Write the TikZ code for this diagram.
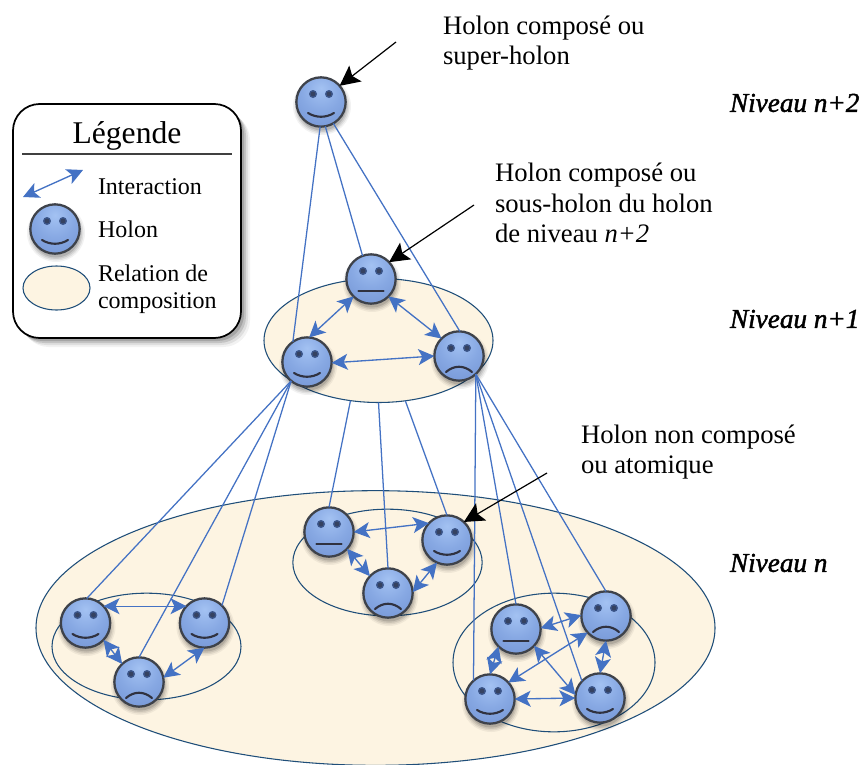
\documentclass[tikz,border=0pt]{standalone}
\usepackage{fontspec}
\setmainfont{Liberation Serif}
\newfontfamily\nivfont[RawFeature={embolden=1.6}]{Liberation Serif}
\usetikzlibrary{arrows.meta,shapes.geometric,calc}
\definecolor{linkblue}{RGB}{68,114,196}
\definecolor{rimblue}{RGB}{31,78,121}
\definecolor{creamfill}{RGB}{253,244,226}
\definecolor{rimgray}{RGB}{62,66,74}
\definecolor{featgray}{RGB}{48,50,64}
\pgfdeclareradialshading{holonshade}{\pgfpoint{0bp}{14bp}}{
 rgb(0bp)=(0.64,0.76,0.95);
 rgb(20bp)=(0.53,0.66,0.89);
 rgb(42bp)=(0.45,0.58,0.83);
 rgb(64bp)=(0.38,0.50,0.74);
 rgb(100bp)=(0.38,0.50,0.74)}
\tikzset{
 x=0.75pt,y=-0.75pt,
 holonbody/.style={circle,minimum size=37pt,inner sep=0pt,outer sep=0pt,shading=holonshade,draw=rimgray,line width=1.7pt},
 compo/.style={ellipse,inner sep=0pt,outer sep=0pt,draw=rimblue,line width=0.8pt},
 filledcompo/.style={compo,fill=creamfill},
 link/.style={linkblue,line width=0.95pt},
 inter/.style={linkblue,line width=1pt,{Stealth[length=12pt,width=12pt,inset=3pt]}-{Stealth[length=12pt,width=12pt,inset=3pt]}},
 pointer/.style={black,line width=0.9pt,-{Stealth[length=15pt,width=15pt,inset=3pt]}},
 lab/.style={inner sep=0pt,outer sep=0pt,anchor=west,align=left,font=\fontsize{20pt}{23pt}\selectfont},
 leg/.style={inner sep=0pt,outer sep=0pt,anchor=west,align=left,font=\fontsize{18pt}{20.5pt}\selectfont},
 niveau/.style={inner sep=0pt,outer sep=0pt,anchor=west,font=\nivfont\fontsize{20.4pt}{22pt}\selectfont\itshape},
 feat/.style={featgray,line width=1.6pt,line cap=round},
}
\newcommand\mouthS{\draw[feat] (-13,11) .. controls (-5,16) and (5,16) .. (13,11);}
\newcommand\mouthN{\draw[feat] (-12.5,12) -- (12.5,12);}
\newcommand\mouthF{\draw[feat] (-13,16) .. controls (-5,9) and (5,9) .. (13,16);}
\newcommand\holon[4]{%
 \foreach \rr/\oo in {29/0.05,27.5/0.07,26/0.09,24.5/0.12}{\fill[black,opacity=\oo] ($(#2,#3)+(1,4)$) circle[radius=\rr];}
 \node[holonbody] (#1) at (#2,#3) {};
 \begin{scope}[shift={(#2,#3)}]
  \fill[featgray!45!linkblue] (-8,-8) circle[radius=4];
  \fill[featgray!45!linkblue] (8,-8) circle[radius=4];
  \fill[featgray!75!linkblue] (-8,-8) circle[radius=2.4];
  \fill[featgray!75!linkblue] (8,-8) circle[radius=2.4];
  #4
 \end{scope}}
\begin{document}
\begin{tikzpicture}
\useasboundingbox (0,0) rectangle (863,764);
\fill[white] (0,0) rectangle (863,764);
\begin{scope}
\clip (0,0) rectangle (863,764);
\node[filledcompo,minimum width=509.25pt,minimum height=206pt] (bigE) at (375.5,628) {};
\node[filledcompo,minimum width=171.75pt,minimum height=93pt] (topE) at (378.5,340.5) {};
\node[compo,minimum width=142pt,minimum height=80pt] (midE) at (387.5,562.5) {};
\node[compo,minimum width=141.75pt,minimum height=80pt] (leftE) at (146.5,646.5) {};
\node[compo,minimum width=151.5pt,minimum height=104pt] (rightE) at (554,662.5) {};
\end{scope}
% legend
\foreach \dd/\oo in {9/0.05,7/0.08,5/0.12,3/0.15}{\fill[black,opacity=\oo,rounded corners=20pt] (13+\dd,104+\dd) rectangle (241+\dd,338+\dd);}
\node[draw=black,line width=1.3pt,fill=white,rounded corners=20pt,minimum width=171pt,minimum height=175.5pt,inner sep=0pt,outer sep=0pt] (legbox) at (127,221) {};
\node[inner sep=0pt,font=\fontsize{23.7pt}{26pt}\selectfont] (legtitle) at (127,135.5) {Légende};
\coordinate (ruleA) at (22,154);
\coordinate (ruleB) at (232,154);
\draw[line width=1.5pt,black!75] (ruleA) -- (ruleB);
\coordinate (lgA) at (23,197);
\coordinate (lgB) at (83,170);
\draw[inter] (lgA) -- (lgB);
\node[leg] (tInter) at (98,186.5) {Interaction};
\node[leg] (tHolon) at (98,229.5) {Holon};
\node[leg] (tRel) at (98,289) {Relation de\\composition};
\node[filledcompo,minimum width=50.25pt,minimum height=33pt] (legE) at (56.5,288) {};
% faces
\holon{legH}{55}{229}{\mouthS}
\holon{pTop}{321}{102}{\mouthS}
\holon{nT}{371}{279}{\mouthN}
\holon{nL}{307}{362}{\mouthS}
\holon{nR}{459}{356}{\mouthF}
\holon{mA}{329}{532}{\mouthN}
\holon{mB}{447}{540}{\mouthS}
\holon{mC}{388}{593}{\mouthF}
\holon{lA1}{85.5}{623}{\mouthS}
\holon{lB}{204.5}{623}{\mouthS}
\holon{lC}{139}{682}{\mouthF}
\holon{rA1}{516}{629}{\mouthN}
\holon{rB}{606}{616}{\mouthF}
\holon{rC}{490}{699}{\mouthS}
\holon{rD}{600}{698}{\mouthS}
% composition links
\draw[link] (pTop.268) -- (nL.125);
\draw[link] (pTop.-80) -- (nT.110);
\draw[link] (pTop.-60) -- (nR.88);
\draw[link] (nL.230) -- (lA1.87);
\draw[link] (nL.230) -- (lC.90);
\draw[link] (nL.230) -- (lB.45);
\draw[link] (topE.245) -- (mA.90);
\draw[link] (topE.270) -- (mC.90);
\draw[link] (topE.294) -- (mB.90);
\draw[link] (nR.-47) -- (rC.132);
\draw[link] (nR.-47) -- (rA1.90);
\draw[link] (nR.-47) -- (rD.137);
\draw[link] (nR.-47) -- (rB.90);
% interactions
\draw[inter] (nT.225) -- (nL.85);
\draw[inter] (nT.-45) -- (nR.135);
\draw[inter] (nL.-2) -- (nR.180);
\draw[inter] (mA.0) -- (mB.137);
\draw[inter] (mA.-43) -- (mC.137);
\draw[inter] (mB.-114) -- (mC.2);
\draw[inter] (lA1.43) -- (lB.137);
\draw[inter] (lA1.-43) -- (lC.133);
\draw[inter] (lB.-90) -- (lC.10);
\draw[inter] (rA1.2) -- (rB.178);
\draw[inter] (rA1.225) -- (rC.90);
\draw[inter] (rA1.-43) -- (rD.173);
\draw[inter] (rB.-90) -- (rD.90);
\draw[inter] (rB.222) -- (rC.42);
\draw[inter] (rC.0) -- (rD.180);
% labels
\node[lab] (t1) at (443,43) {Holon composé ou\\super-holon};
\node[lab] (t2) at (495,203) {Holon composé ou\\sous-holon du holon\\de niveau \textit{n+2}};
\node[lab] (t3) at (581,452) {Holon non composé\\ou atomique};
\node[niveau] (n2) at (730,103) {Niveau n+2};
\node[niveau] (n1) at (730,319) {Niveau n+1};
\node[niveau] (n0) at (730,563) {Niveau n};
\coordinate (pa) at (396,42);
\coordinate (pb) at (474,205);
\coordinate (pc) at (547,473);
\draw[pointer] (pa) -- (pTop.41);
\draw[pointer] (pb) -- (nT.43);
\draw[pointer] (pc) -- (mB.47);
\end{tikzpicture}
\end{document}
